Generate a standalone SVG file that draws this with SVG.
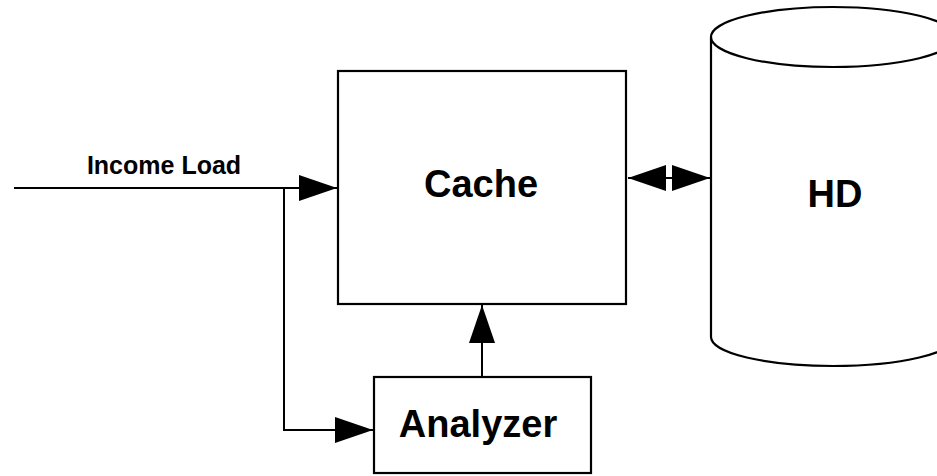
<svg xmlns="http://www.w3.org/2000/svg" width="937" height="476" viewBox="0 0 937 476">
<style>
.box{fill:#fff;stroke:#000;stroke-width:2.2}
.ln{fill:none;stroke:#000;stroke-width:2}
.lbl{font-family:"Liberation Sans",Arial,sans-serif;font-weight:bold;fill:#000;text-anchor:middle}
</style>
<defs>
<marker id="ah" markerUnits="userSpaceOnUse" markerWidth="38" markerHeight="26" refX="38" refY="13" orient="auto-start-reverse" viewBox="0 0 38 26">
<path d="M0,0 L38,13 L0,26 z" fill="#000"/>
</marker>
</defs>
<rect width="937" height="476" fill="#fff"/>
<g id="connectors">
<path class="ln" d="M14,188 H337" marker-end="url(#ah)"/>
<path class="ln" d="M284,188 V430 H373" marker-end="url(#ah)"/>
<path class="ln" d="M482,377 V305" marker-end="url(#ah)"/>
<path class="ln" d="M628,178 H710" marker-start="url(#ah)" marker-end="url(#ah)"/>
<text class="lbl" x="164" y="174" font-size="25">Income Load</text>
</g>
<g id="cache">
<rect class="box" x="338" y="71" width="288" height="233"/>
<text class="lbl" x="481" y="197" font-size="38">Cache</text>
</g>
<g id="analyzer">
<rect class="box" x="374" y="377" width="217" height="96"/>
<text class="lbl" x="478" y="437" font-size="38">Analyzer</text>
</g>
<g id="hd">
<path class="box" d="M711,37 V337 A122,29 0 0 0 955,337 V37 A122,30 0 0 0 711,37 A122,30 0 0 0 955,37"/>
<text class="lbl" x="835" y="207" font-size="38">HD</text>
</g>
</svg>
